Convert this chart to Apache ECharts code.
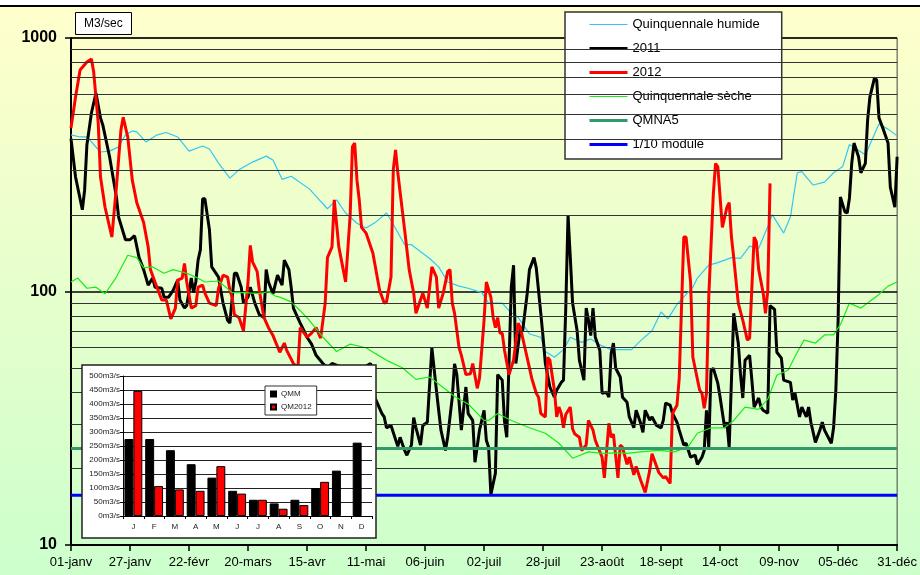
<!DOCTYPE html>
<html>
<head>
<meta charset="utf-8">
<script src="https://cdn.jsdelivr.net/npm/echarts@6/dist/echarts.min.js"></script>
<style>
  html, body { margin: 0; padding: 0; background: #fff; }
  #chart {
    width: 920px;
    height: 575px;
    background: linear-gradient(to bottom, #fff 0, #fff 5px, #000 5px, #000 7px, #ffffcc 7px, #ccffcc 100%);
  }
</style>
</head>
<body>
<div id="chart"></div>
<script>
// axe des dates (un repère tous les 26 jours)
const xLabels = ['01-janv', '27-janv', '22-févr', '20-mars', '15-avr', '11-mai', '06-juin',
  '02-juil', '28-juil', '23-août', '18-sept', '14-oct', '09-nov', '05-déc', '31-déc']
const minorGrid = [20, 30, 40, 50, 60, 70, 80, 90, 200, 300, 400, 500, 600, 700, 800, 900]

// débits journaliers [jour, m3/s]
const humide = [[0,415],[4,407],[7,407],[13,355],[17,358],[21,372],[24,415],[27,430],[29,426],[33,389],[38,415],[42,424],[47,407],[52,358],[58,375],[61,365],[65,321],[70,280],[74,302],[80,324],[86,342],[89,330],[93,277],[97,285],[105,254],[109,232],[113,212],[117,230],[121,204],[126,186],[130,178],[134,187],[139,204],[141,191],[147,153],[150,153],[158,135],[162,125],[166,109],[171,105],[175,103],[181,99],[184,90],[190,90],[193,84],[197,79],[202,68],[207,66],[209,58],[213,55],[217,59],[220,66],[225,63],[229,65],[234,61],[238,59],[242,59],[247,59],[251,64],[256,70],[260,83],[263,78],[267,89],[274,104],[276,113],[281,127],[285,130],[291,136],[295,135],[299,151],[303,148],[307,180],[309,201],[314,170],[317,197],[320,294],[322,297],[327,263],[332,270],[336,294],[340,311],[343,380],[350,346],[356,458],[360,437],[364,411]]

const q2011 = [[0,401],[2,283],[5,210],[6,251],[7,378],[9,506],[11,607],[13,484],[14,454],[17,340],[20,236],[21,196],[24,160],[26,160],[28,166],[30,136],[32,122],[34,106],[36,113],[37,104],[40,103],[41,95],[43,95],[45,101],[47,111],[48,92.5],[50,86],[51,88],[53,113],[54,99],[55,109],[56,133],[57,146],[58,232],[59,232],[61,175],[62,125],[65,114],[66,101],[67,90],[69,77],[70,75],[72,118],[73,118],[75,104],[76,90],[78,95],[79,104],[81,90],[83,81],[85,79],[86,122],[87,109],[89,98],[91,116],[93,106],[94,133],[96,122],[97,104],[98,86],[101,75],[102,72],[104,66],[106,62],[108,56],[111,52],[113,50],[115,52],[125,48],[132,52],[134,38],[137,33],[138,32],[139,29],[141,29.6],[142,27.8],[144,24.5],[145,26.6],[147,23.6],[148,22.6],[150,24.8],[151,31.8],[152,29],[154,24.8],[155,29.6],[157,30.5],[159,60],[161,40.8],[162,34],[163,28.4],[165,23.6],[166,26.8],[168,38.3],[169,51.8],[170,47],[172,28.4],[174,42],[175,33],[177,31],[178,21.2],[180,28.4],[182,34],[183,25.9],[184,24.3],[185,15.8],[187,19.2],[188,47],[190,44.7],[191,30.8],[192,26.6],[194,104],[195,127],[196,52],[198,72],[199,70],[201,98],[202,122],[204,136],[205,124],[207,82],[208,66],[209,52],[211,42],[213,38.3],[214,40.8],[216,43.8],[217,44.7],[218,86],[219,200],[220,136],[221,90],[223,70],[224,53.6],[226,44.7],[227,86],[228,77],[229,67],[230,86],[231,66],[233,58.7],[234,39.7],[236,40],[237,38.3],[238,57],[239,62.6],[240,49.8],[242,46],[243,38.3],[245,36.6],[246,32],[248,29],[249,34],[251,30.2],[252,27.8],[253,34],[255,31.1],[256,32],[258,29.6],[260,29],[261,31.1],[262,36.3],[264,35.6],[265,33.1],[267,30.5],[268,28.4],[270,24.8],[271,25.2],[273,22.2],[275,22.6],[276,20.8],[278,22.2],[279,23.6],[280,34],[281,24.3],[282,48.9],[283,49.8],[285,43.4],[286,38.3],[288,29],[289,30.5],[290,24.3],[292,82],[294,62.6],[295,47],[296,38],[297,53.6],[299,56],[300,44.7],[301,35],[303,38],[304,35],[305,34],[307,33.1],[308,88],[310,85],[311,57.6],[313,54.6],[314,44.7],[317,43.8],[318,37.3],[319,39.7],[321,32],[322,35],[324,32],[325,35],[326,30.5],[328,25.4],[330,28.4],[331,30.5],[332,28.4],[335,25.2],[336,29],[337,40.8],[338,77],[339,236],[341,206],[342,204],[343,234],[344,320],[345,385],[347,340],[348,294],[350,320],[351,475],[352,585],[354,695],[355,683],[356,484],[358,434],[360,385],[361,258],[363,215],[364,340]]

const q2012 = [[0,441],[2,585],[4,748],[7,804],[9,826],[10,734],[12,462],[13,283],[15,215],[18,164],[20,258],[22,434],[23,487],[25,407],[27,275],[29,224],[32,187],[34,150],[35,122],[37,109],[40,92.5],[42,92.5],[44,78],[46,86],[47,111],[49,113],[50,129],[51,109],[53,86],[55,88],[56,104],[58,106],[59,98.5],[61,90],[64,88],[65,103],[67,116],[69,114],[70,101],[71,95],[72,81],[74,79],[76,70],[78,109],[79,152],[80,131],[82,120],[83,101],[85,79],[87,72],[89,67],[92,57.6],[94,62.6],[95,58.7],[98,52],[100,50],[101,72],[104,66],[106,68.5],[108,72],[110,65.5],[112,90],[113,136],[115,150],[116,230],[118,150],[121,109],[123,200],[124,372],[125,385],[126,275],[127,230],[128,179],[130,170],[133,142],[136,101],[138,90],[139,91],[141,114],[142,302],[143,362],[144,294],[147,175],[149,122],[151,98.5],[152,82],[155,98.5],[157,86],[159,125],[161,114],[162,86],[164,98.5],[166,120],[167,122],[168,90],[169,82],[171,60],[172,56],[174,47],[176,47.4],[177,52],[179,41.5],[180,45.5],[182,77],[183,109],[185,95],[186,79],[187,72],[188,79],[189,68.5],[190,68.5],[191,58.7],[193,47],[195,53.6],[197,75],[198,72],[200,60],[202,50],[203,45.5],[205,39.7],[206,38.3],[207,33],[209,32],[210,55],[211,53.6],[213,40.8],[214,32],[215,35],[216,33],[217,29],[218,32.7],[220,35],[221,28.7],[222,27.4],[224,26.6],[225,23.6],[227,24.8],[228,31],[230,28.4],[231,25.9],[234,22.2],[235,18.4],[237,30.2],[238,26.6],[239,27.4],[241,18.4],[242,24.8],[243,24.3],[245,20.8],[246,22.2],[248,18.9],[249,20.4],[251,18],[253,16.1],[255,19.7],[256,22.9],[259,19.3],[261,18.4],[262,18.6],[264,17.5],[265,33],[267,35.6],[268,45.5],[270,164],[271,164],[273,109],[274,55],[277,40.8],[278,39.7],[279,34.6],[280,39.7],[281,95],[283,241],[284,320],[285,310],[287,179],[289,215],[290,224],[291,164],[292,136],[294,90],[296,77],[298,64.3],[299,65.5],[301,164],[302,157],[303,122],[305,98.5],[306,82],[307,101],[308,267]]

const seche = [[0,109],[3,113],[7,103],[11,104],[15,98],[20,114],[25,139],[29,136],[32,124],[36,125],[41,118],[45,122],[51,118],[55,114],[59,109],[65,110],[71,99],[77,99],[83,98],[87,100],[90,96],[92,95],[97,91],[101,84],[105,77],[111,66],[117,58],[123,62],[130,60],[134,57],[140,53],[146,50],[152,45],[158,46],[163,42.5],[169,38.5],[175,36],[182,31],[184,31],[188,33],[194,31],[202,29],[209,27.6],[215,25.2],[221,22],[228,23.3],[234,23],[240,23.1],[245,23],[251,23.3],[259,23.6],[266,23.3],[272,24.5],[276,27.6],[282,29],[288,29],[292,31],[297,35],[303,34.3],[307,37.6],[311,46.7],[316,49],[320,57.6],[323,64.3],[328,62.6],[332,67.4],[336,67.4],[339,74],[343,90],[348,86],[351,90],[356,97.4],[360,105],[364,109]]

const qmna5 = 24
const module10 = 15.7

// encart : débits moyens mensuels
const mois = ['J', 'F', 'M', 'A', 'M', 'J', 'J', 'A', 'S', 'O', 'N', 'D']
const qmm = [275, 275, 235, 185, 137, 90, 58, 45, 58, 100, 162, 262]
const qm2012 = [447, 107, 95, 90, 178, 80, 58, 26, 39, 122, null, null]

const font = 'Liberation Sans, Arial, sans-serif'
const chart = echarts.init(document.getElementById('chart'))

const lineSerie = (name, data, color, width) => ({
  name,
  type: 'line',
  data,
  symbol: 'none',
  xAxisIndex: 0,
  yAxisIndex: 0,
  lineStyle: { color, width },
  itemStyle: { color }
})

const option = {
  animation: false,
  textStyle: { fontFamily: font },
  title: {
    text: 'M3/sec',
    left: 75,
    top: 12,
    padding: [6, 9, 5, 9],
    backgroundColor: '#fff',
    borderColor: '#000',
    borderWidth: 1,
    textStyle: { fontSize: 12, fontWeight: 'normal', color: '#000', fontFamily: font }
  },
  legend: [
    {
      data: [
        { name: 'Quinquennale humide', lineStyle: { width: 1.2 } },
        { name: '2011', lineStyle: { width: 3 } },
        { name: '2012', lineStyle: { width: 3 } },
        { name: 'Quinquennale sèche', lineStyle: { width: 1.2 } },
        { name: 'QMNA5', lineStyle: { width: 3 } },
        { name: '1/10 module', lineStyle: { width: 3 } }
      ],
      orient: 'vertical',
      left: 565,
      top: 12,
      itemWidth: 38,
      itemHeight: 13,
      itemGap: 11,
      padding: [6, 22, 8, 23],
      backgroundColor: '#fff',
      borderColor: '#333',
      borderWidth: 1.5,
      itemStyle: { opacity: 0 },
      textStyle: { fontSize: 13, color: '#000', fontFamily: font }
    },
    {
      data: ['QMM', 'QM2012'],
      orient: 'vertical',
      left: 265,
      top: 386,
      z: 70,
      icon: 'rect',
      itemWidth: 5,
      itemHeight: 5,
      itemGap: 5,
      itemTextGap: 3,
      padding: [4, 5, 4, 5],
      backgroundColor: '#fff',
      borderColor: '#333',
      borderWidth: 1,
      textStyle: { fontSize: 8, color: '#222', fontFamily: font }
    }
  ],
  graphic: [
    {
      type: 'rect',
      z: 50,
      shape: { x: 82, y: 365, width: 294, height: 173 },
      style: { fill: '#fff', stroke: '#222', lineWidth: 1.5 }
    }
  ],
  grid: [
    { left: 71, right: 20, top: 38, bottom: 30, show: true, borderColor: '#444', borderWidth: 1 },
    { left: 123, top: 376, width: 249, height: 140 }
  ],
  xAxis: [
    {
      type: 'value',
      gridIndex: 0,
      min: 0,
      max: 364,
      interval: 26,
      axisLine: { lineStyle: { color: '#000', width: 2 } },
      axisTick: { show: true, inside: false, length: 6, lineStyle: { color: '#000', width: 1.5 } },
      axisLabel: {
        fontSize: 13,
        color: '#000',
        margin: 11,
        formatter: v => xLabels[Math.round(v / 26)] || ''
      },
      splitLine: { show: false }
    },
    {
      type: 'category',
      gridIndex: 1,
      data: mois,
      z: 60,
      axisLine: { lineStyle: { color: '#000', width: 1 } },
      axisTick: { show: true, length: 3, lineStyle: { color: '#000' } },
      axisLabel: { fontSize: 8, color: '#222', margin: 7 }
    }
  ],
  yAxis: [
    {
      type: 'log',
      logBase: 10,
      gridIndex: 0,
      min: 10,
      max: 1000,
      axisLine: { show: true, lineStyle: { color: '#000', width: 2 } },
      axisTick: { show: true, inside: false, length: 6, lineStyle: { color: '#000', width: 1.5 } },
      axisLabel: {
        fontSize: 16,
        fontWeight: 'bold',
        color: '#000',
        margin: 14,
        formatter: v => String(Math.round(v))
      },
      splitLine: { show: true, lineStyle: { color: '#000', width: 1.5 } }
    },
    {
      type: 'value',
      gridIndex: 1,
      min: 0,
      max: 500,
      interval: 50,
      z: 60,
      axisLine: { show: true, lineStyle: { color: '#000', width: 1 } },
      axisTick: { show: true, length: 3, lineStyle: { color: '#000' } },
      axisLabel: { fontSize: 8, color: '#222', margin: 3, formatter: v => v + 'm3/s' },
      splitLine: { show: true, lineStyle: { color: '#222', width: 1 } }
    }
  ],
  series: [
    {
      name: 'grille',
      type: 'line',
      data: [],
      z: 1,
      xAxisIndex: 0,
      yAxisIndex: 0,
      markLine: {
        silent: true,
        symbol: 'none',
        label: { show: false },
        lineStyle: { color: '#333', width: 1, type: 'solid' },
        data: minorGrid.map(v => ({ yAxis: v }))
      }
    },
    lineSerie('Quinquennale humide', humide, '#33c6f5', 1.2),
    lineSerie('2011', q2011, '#000000', 3),
    lineSerie('2012', q2012, '#ff0000', 3),
    lineSerie('Quinquennale sèche', seche, '#18ec18', 1.2),
    lineSerie('QMNA5', [[0, qmna5], [364, qmna5]], '#339966', 3),
    lineSerie('1/10 module', [[0, module10], [364, module10]], '#0000ff', 3),
    {
      name: 'QMM',
      type: 'bar',
      xAxisIndex: 1,
      yAxisIndex: 1,
      z: 60,
      data: qmm,
      barGap: '0%',
      barCategoryGap: '14%',
      itemStyle: { color: '#000', borderColor: '#000', borderWidth: 1 }
    },
    {
      name: 'QM2012',
      type: 'bar',
      xAxisIndex: 1,
      yAxisIndex: 1,
      z: 60,
      data: qm2012,
      itemStyle: { color: '#ff0000', borderColor: '#000', borderWidth: 1 }
    }
  ]
}

chart.setOption(option)
window.addEventListener('resize', () => chart.resize())
</script>
</body>
</html>
